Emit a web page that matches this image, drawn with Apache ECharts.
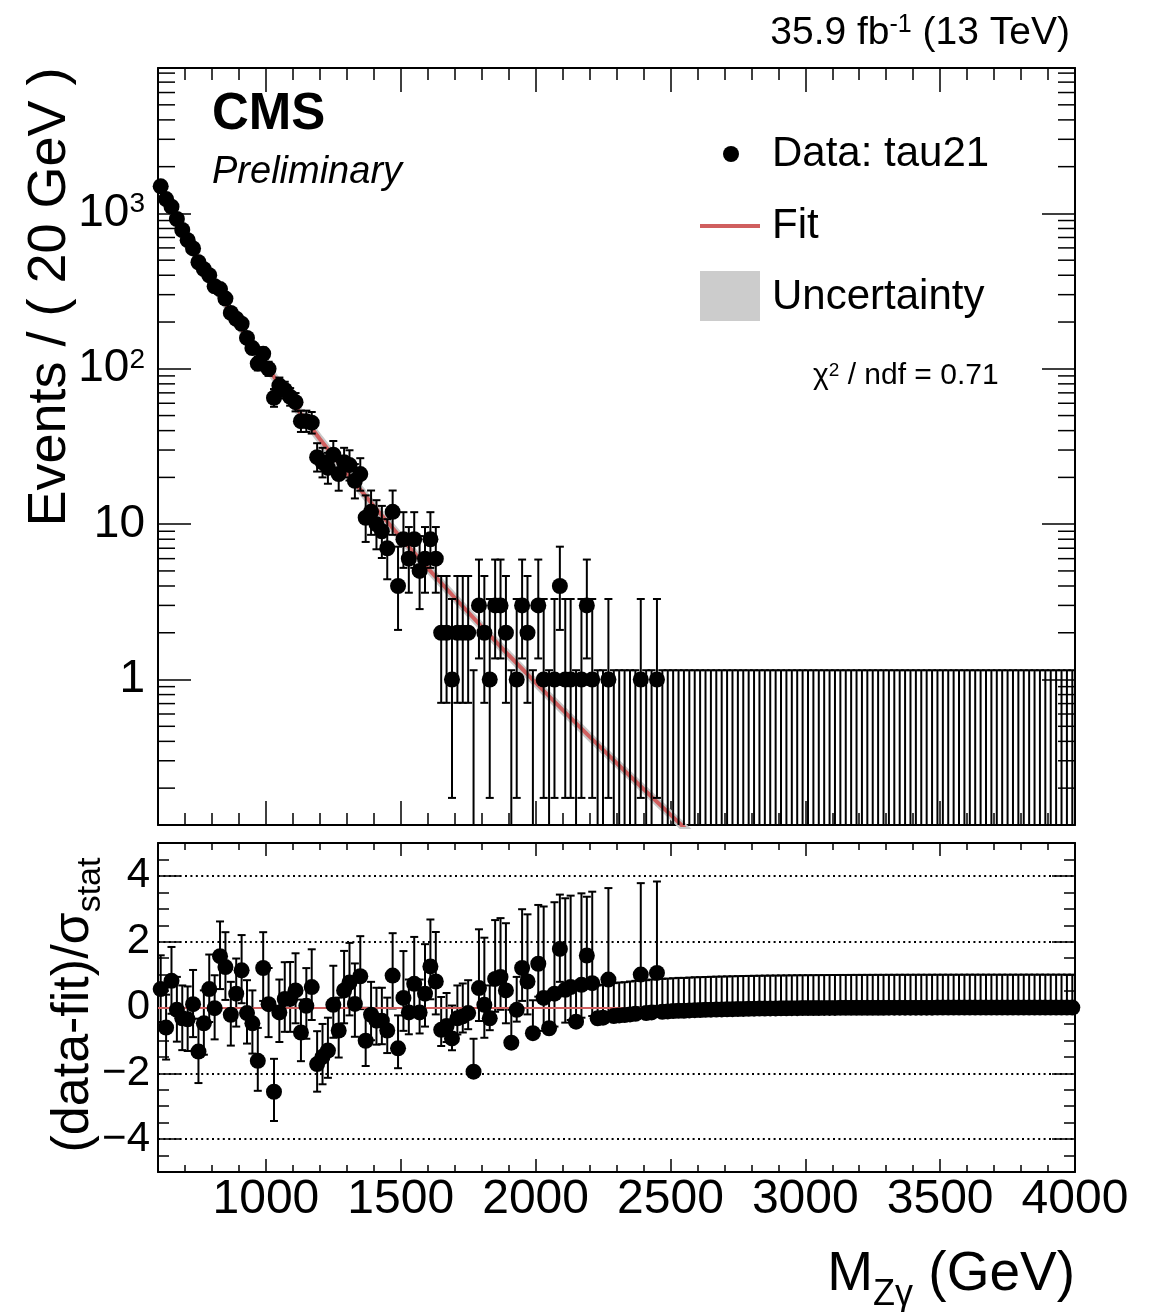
<!DOCTYPE html>
<html><head><meta charset="utf-8">
<script src="https://cdn.jsdelivr.net/npm/echarts@6/dist/echarts.min.js"></script>
<style>html,body{margin:0;padding:0;background:#fff}#c{width:1151px;height:1312px}</style>
</head><body><div id="c"></div>
<script>
const FONT = '"Liberation Sans", Arial, Helvetica, sans-serif';
const X_MIN = 600, X_MAX = 4000, BIN_WIDTH = 20;
const Y_MIN = 0.1158, Y_MAX = 8630;
const R_MIN = -5, R_MAX = 5;

// Events per 20 GeV bin (bin centres 610 ... 3990)
const counts = [
  1494,1237,1106,921,782,673,595,485,438,400,
  340,326,283,229,210,195,158,136,108,125,
  100,65,78,73,66,61,46,46,45,27,
  25,23,28,21,25,24,19,21,11,12,
  10,9,7,12,4,8,6,8,5,6,
  8,6,2,2,1,2,2,2,0,3,
  2,1,3,3,2,0,1,3,2,0,
  3,1,0,1,4,1,1,0,1,3,
  1,0,0,1,0,0,0,0,0,1,
  0,0,1,0,0,0,0,0,0,0,
  0,0,0,0,0,0,0,0,0,0,
  0,0,0,0,0,0,0,0,0,0,
  0,0,0,0,0,0,0,0,0,0,
  0,0,0,0,0,0,0,0,0,0,
  0,0,0,0,0,0,0,0,0,0,
  0,0,0,0,0,0,0,0,0,0,
  0,0,0,0,0,0,0,0,0,0
];

// (data-fit)/sigma_stat per bin
const pulls = [
  0.56,-0.61,0.81,-0.07,-0.33,-0.36,0.10,-1.34,-0.48,0.56,
  -0.02,1.56,1.23,-0.22,0.42,1.13,-0.17,-0.48,-1.62,1.20,
  0.10,-2.56,-0.15,0.26,0.26,0.52,-0.76,0.05,0.62,-1.72,
  -1.50,-1.31,0.08,-0.70,0.52,0.76,0.11,0.95,-1.01,-0.22,
  -0.40,-0.40,-0.70,0.97,-1.24,0.29,-0.15,0.72,-0.15,0.42,
  1.25,0.79,-0.68,-0.56,-0.94,-0.33,-0.27,-0.17,-1.95,0.59,
  0.08,-0.33,0.87,0.93,0.52,-1.07,-0.07,1.20,0.79,-0.78,
  1.33,0.29,-0.63,0.42,1.78,0.54,0.62,-0.43,0.69,1.58,
  0.74,-0.33,-0.31,0.85,-0.26,-0.24,-0.23,-0.21,-0.19,1.00,
  -0.17,-0.15,1.05,-0.13,-0.12,-0.11,-0.10,-0.10,-0.09,-0.08,
  -0.077,-0.072,-0.067,-0.062,-0.058,-0.054,-0.050,-0.046,-0.043,-0.040,
  -0.037,-0.034,-0.031,-0.029,-0.027,-0.025,-0.023,-0.021,-0.019,-0.018,
  -0.017,-0.016,-0.015,-0.014,-0.013,-0.012,-0.011,-0.011,-0.010,-0.009,
  -0.009,-0.008,-0.008,-0.007,-0.007,-0.006,-0.006,-0.005,-0.005,-0.005,
  -0.004,-0.004,-0.004,-0.004,-0.003,-0.003,-0.003,-0.003,-0.003,-0.002,
  -0.002,-0.002,-0.002,-0.002,-0.002,-0.002,-0.002,-0.002,-0.002,-0.002,
  -0.001,-0.001,-0.001,-0.001,-0.001,-0.001,-0.001,-0.001,-0.001,-0.001
];

// Fit curve
const fitMass   = [600,700,800,900,1000,1100,1200,1300,1400,1500,1600,1700,1800,1900,2000,2100,2200,2300,2400,2500,2600];
const fitValues = [1591,731.5,363,191,105.1,60.0,35.3,21.3,13.09,8.20,5.21,3.36,2.19,1.438,0.954,0.638,0.429,0.2905,0.1976,0.1350,0.0926];

// Garwood (68%) Poisson intervals for small counts: n - low, high - n
const poissonErrLow  = [0, 0.827, 1.292, 1.633, 1.914, 2.160, 2.380, 2.581, 2.768, 2.943, 3.109];
const poissonErrHigh = [1.148, 2.299, 2.638, 2.918, 3.162, 3.382, 3.583, 3.770, 3.945, 4.110, 4.266];

const logMinorTicks = [0.2,0.3,0.4,0.5,0.6,0.7,0.8,0.9, 2,3,4,5,6,7,8,9, 20,30,40,50,60,70,80,90,
  200,300,400,500,600,700,800,900, 2000,3000,4000,5000,6000,7000,8000];
const ratioGuides = [-4, -2, 2, 4];

function errLow(n){ return n <= 10 ? poissonErrLow[n] : Math.sqrt(n); }
function errHigh(n){ return n <= 10 ? poissonErrHigh[n] : Math.sqrt(n) + 1; }

const centers = counts.map((_, i) => X_MIN + BIN_WIDTH * (i + 0.5));
const dataPts = [], dataErr = [], pullPts = [], pullErr = [];
counts.forEach((n, i) => {
  const x = centers[i];
  if (n > 0) dataPts.push([x, n]);
  const lo = n - errLow(n), hi = n + errHigh(n);
  dataErr.push([x, Math.max(lo, Y_MIN), hi, lo > Y_MIN ? 1 : 0]);
  const p = pulls[i];
  let plo, phi;
  if (p > 0) { plo = p - 1; phi = p + errHigh(n) / errLow(n); }
  else { plo = p - errLow(n) / errHigh(n); phi = p + 1; }
  pullPts.push([x, p]);
  pullErr.push([x, plo, phi, 1]);
});

const tickStyle = {color: '#000', width: 1.5};
const frameLine = {show: true, onZero: false, lineStyle: {color: '#000', width: 2}};
const noLine = {show: false, onZero: false};

function xAx(grid, pos, tickLen, extra) {
  return Object.assign({
    gridIndex: grid, type: 'value', position: pos, min: X_MIN, max: X_MAX,
    axisLine: noLine,
    axisTick: {show: true, inside: true, length: tickLen, lineStyle: tickStyle},
    axisLabel: {show: false}, splitLine: {show: false}
  }, extra || {});
}
function yAx(grid, pos, tickLen, extra) {
  return Object.assign({
    gridIndex: grid, position: pos,
    axisLine: noLine,
    axisTick: {show: true, inside: true, length: tickLen, lineStyle: tickStyle},
    axisLabel: {show: false}, splitLine: {show: false}
  }, extra || {});
}

function errorBarItem(params, api) {
  const x = api.value(0);
  const top = api.coord([x, api.value(2)]);
  const bot = api.coord([x, api.value(1)]);
  const c = 4;
  const st = {stroke: '#000', lineWidth: 2};
  const kids = [
    {type: 'line', shape: {x1: top[0], y1: top[1], x2: bot[0], y2: bot[1]}, style: st},
    {type: 'line', shape: {x1: top[0] - c, y1: top[1], x2: top[0] + c, y2: top[1]}, style: st}
  ];
  if (api.value(3) === 1) kids.push({type: 'line', shape: {x1: bot[0] - c, y1: bot[1], x2: bot[0] + c, y2: bot[1]}, style: st});
  return {type: 'group', children: kids};
}
function logTickItem(params, api) {
  const cs = params.coordSys;
  const y = api.coord([X_MIN, api.value(1)])[1];
  const len = 17;
  const st = {stroke: '#000', lineWidth: 1.5};
  return {type: 'group', children: [
    {type: 'line', shape: {x1: cs.x, y1: y, x2: cs.x + len, y2: y}, style: st},
    {type: 'line', shape: {x1: cs.x + cs.width - len, y1: y, x2: cs.x + cs.width, y2: y}, style: st}
  ]};
}

const option = {
  animation: false,
  backgroundColor: '#fff',
  textStyle: {fontFamily: FONT, color: '#000'},
  grid: [
    {left: 158, top: 68, width: 917, height: 757},
    {left: 158, top: 843, width: 917, height: 329}
  ],
  xAxis: [
    xAx(0, 'bottom', 24, {splitNumber: 6, axisLine: frameLine}),
    xAx(0, 'top', 24, {splitNumber: 6, axisLine: frameLine}),
    xAx(0, 'bottom', 12, {interval: 100}),
    xAx(0, 'top', 12, {interval: 100}),
    xAx(1, 'bottom', 13, {splitNumber: 6, axisLine: frameLine,
      axisLabel: {show: true, fontSize: 48, fontFamily: FONT, color: '#000', margin: 4,
        showMinLabel: false, showMaxLabel: true,
        formatter: v => (v % 500 === 0 ? String(v) : '')}}),
    xAx(1, 'top', 13, {splitNumber: 6, axisLine: frameLine}),
    xAx(1, 'bottom', 7, {interval: 100}),
    xAx(1, 'top', 7, {interval: 100})
  ],
  yAxis: [
    yAx(0, 'left', 33, {type: 'log', logBase: 10, min: Y_MIN, max: Y_MAX, axisLine: frameLine,
      axisLabel: {show: true, fontSize: 46, fontFamily: FONT, color: '#000', margin: 13,
        formatter: v => {
          const lg = Math.log10(v), e = Math.round(lg);
          if (Math.abs(lg - e) > 1e-6) return '';
          if (e === 0) return '1';
          if (e === 1) return '10';
          return '10{sup|' + e + '}';
        },
        rich: {sup: {fontSize: 28, lineHeight: 28, verticalAlign: 'top', fontFamily: FONT, color: '#000'}}}}),
    yAx(0, 'right', 33, {type: 'log', logBase: 10, min: Y_MIN, max: Y_MAX, axisLine: frameLine}),
    yAx(1, 'left', 23, {type: 'value', min: R_MIN, max: R_MAX, splitNumber: 5, axisLine: frameLine,
      axisLabel: {show: true, fontSize: 42, fontFamily: FONT, color: '#000', margin: 8,
        formatter: v => (Math.abs(v) === 5 ? '' : String(v).replace('-', '\u2212'))}}),
    yAx(1, 'right', 23, {type: 'value', min: R_MIN, max: R_MAX, splitNumber: 5, axisLine: frameLine}),
    yAx(1, 'left', 11, {type: 'value', min: R_MIN, max: R_MAX, interval: 0.5}),
    yAx(1, 'right', 11, {type: 'value', min: R_MIN, max: R_MAX, interval: 0.5})
  ],
  series: [
    {type: 'custom', name: 'logTicks', xAxisIndex: 0, yAxisIndex: 0, silent: true, clip: true,
      renderItem: logTickItem, encode: {x: 0, y: 1},
      data: logMinorTicks.filter(v => v > Y_MIN && v < Y_MAX).map(v => [X_MIN, v]), z: 5},
    {type: 'line', name: 'Uncertainty', xAxisIndex: 0, yAxisIndex: 0, silent: true, clip: true,
      symbol: 'none', lineStyle: {color: '#c9c9c9', width: 8},
      data: fitMass.map((m, i) => [m, fitValues[i]]), z: 2},
    {type: 'line', name: 'Fit', xAxisIndex: 0, yAxisIndex: 0, silent: true, clip: true,
      symbol: 'none', lineStyle: {color: '#d05f5f', width: 4},
      data: fitMass.map((m, i) => [m, fitValues[i]]), z: 3},
    {type: 'custom', name: 'dataErr', xAxisIndex: 0, yAxisIndex: 0, silent: true, clip: true,
      renderItem: errorBarItem, encode: {x: 0, y: [1, 2]}, data: dataErr, z: 4},
    {type: 'scatter', name: 'Data', xAxisIndex: 0, yAxisIndex: 0, silent: true,
      symbol: 'circle', symbolSize: 16, itemStyle: {color: '#000', opacity: 1}, data: dataPts, z: 6},
    {type: 'line', name: 'guides', xAxisIndex: 4, yAxisIndex: 2, silent: true,
      symbol: 'none', lineStyle: {opacity: 0}, data: pullPts, z: 2,
      markLine: {silent: true, symbol: 'none', label: {show: false}, animation: false,
        data: ratioGuides.map(v => ({yAxis: v, lineStyle: {color: '#000', width: 2, type: [2, 3.4]}}))
          .concat([{yAxis: 0, lineStyle: {color: '#d05f5f', width: 2, type: 'solid'}}])}},
    {type: 'custom', name: 'pullErr', xAxisIndex: 4, yAxisIndex: 2, silent: true, clip: true,
      renderItem: errorBarItem, encode: {x: 0, y: [1, 2]}, data: pullErr, z: 4},
    {type: 'scatter', name: 'pulls', xAxisIndex: 4, yAxisIndex: 2, silent: true,
      symbol: 'circle', symbolSize: 16, itemStyle: {color: '#000', opacity: 1}, data: pullPts, z: 6}
  ],
  graphic: [
    {type: 'text', x: 1070, y: 33, style: {text: '35.9 fb{sup|-1} (13 TeV)', fontSize: 39, fontFamily: FONT,
      fill: '#000', align: 'right', verticalAlign: 'middle', lineHeight: 40,
      rich: {sup: {fontSize: 25, lineHeight: 16, verticalAlign: 'top', fontFamily: FONT, fill: '#000'}}}},
    {type: 'text', x: 212, y: 115, style: {text: 'CMS', fontSize: 51, fontWeight: 'bold', fontFamily: FONT,
      fill: '#000', align: 'left', verticalAlign: 'middle'}},
    {type: 'text', x: 212, y: 172, style: {text: 'Preliminary', fontSize: 38, fontStyle: 'italic', fontFamily: FONT,
      fill: '#000', align: 'left', verticalAlign: 'middle'}},
    {type: 'circle', shape: {cx: 731, cy: 154, r: 8}, style: {fill: '#000'}},
    {type: 'text', x: 772, y: 154, style: {text: 'Data: tau21', fontSize: 42, fontFamily: FONT, fill: '#000',
      align: 'left', verticalAlign: 'middle'}},
    {type: 'line', shape: {x1: 700, y1: 226, x2: 760, y2: 226}, style: {stroke: '#d05f5f', lineWidth: 4}},
    {type: 'text', x: 772, y: 226, style: {text: 'Fit', fontSize: 42, fontFamily: FONT, fill: '#000',
      align: 'left', verticalAlign: 'middle'}},
    {type: 'rect', shape: {x: 700, y: 271, width: 60, height: 50}, style: {fill: '#cccccc'}},
    {type: 'text', x: 772, y: 297, style: {text: 'Uncertainty', fontSize: 42, fontFamily: FONT, fill: '#000',
      align: 'left', verticalAlign: 'middle'}},
    {type: 'text', x: 813, y: 376, style: {text: '\u03c7{sup|2} / ndf = 0.71', fontSize: 30, fontFamily: FONT,
      fill: '#000', align: 'left', verticalAlign: 'middle', lineHeight: 30,
      rich: {sup: {fontSize: 19, lineHeight: 12, verticalAlign: 'top', fontFamily: FONT, fill: '#000'}}}},
    {type: 'text', x: 50, y: 297, rotation: Math.PI / 2, style: {text: 'Events / ( 20 GeV )', fontSize: 54,
      fontFamily: FONT, fill: '#000', align: 'center', verticalAlign: 'middle'}},
    {type: 'text', x: 74, y: 1005, rotation: Math.PI / 2, style: {text: '(data-fit)/\u03c3{sub|stat}', fontSize: 52,
      fontFamily: FONT, fill: '#000', align: 'center', verticalAlign: 'middle', lineHeight: 52,
      rich: {sub: {fontSize: 34, lineHeight: 34, padding: [26, 0, 0, 0], verticalAlign: 'top', fontFamily: FONT, fill: '#000'}}}},
    {type: 'text', x: 1075, y: 1275, style: {text: 'M{sub|Z\u03b3} (GeV)', fontSize: 55, fontFamily: FONT,
      fill: '#000', align: 'right', verticalAlign: 'middle', lineHeight: 55,
      rich: {sub: {fontSize: 36, lineHeight: 36, padding: [30, 0, 0, 0], verticalAlign: 'top', fontFamily: FONT, fill: '#000'}}}}
  ]
};

const chart = echarts.init(document.getElementById('c'), null, {renderer: 'canvas'});
chart.setOption(option);
</script>
</body></html>
